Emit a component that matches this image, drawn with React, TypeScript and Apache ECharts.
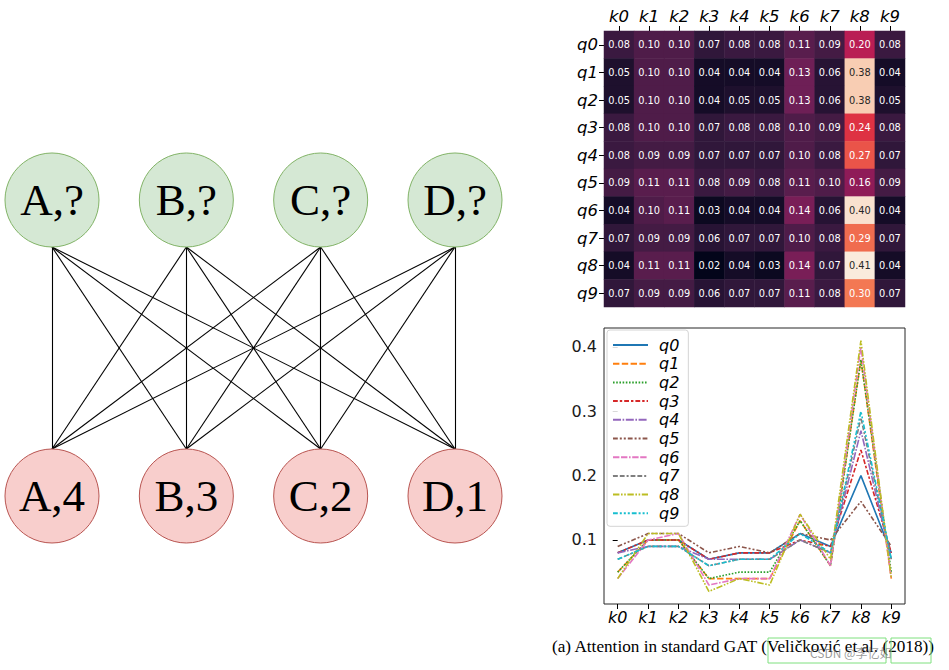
import React, { useEffect, useRef } from 'react';
import * as echarts from 'echarts';

const keys = ['k0', 'k1', 'k2', 'k3', 'k4', 'k5', 'k6', 'k7', 'k8', 'k9'];
const queries = ['q0', 'q1', 'q2', 'q3', 'q4', 'q5', 'q6', 'q7', 'q8', 'q9'];

const q0 = [0.08, 0.10, 0.10, 0.07, 0.08, 0.08, 0.11, 0.09, 0.20, 0.08];
const q1 = [0.05, 0.10, 0.10, 0.04, 0.04, 0.04, 0.13, 0.06, 0.38, 0.04];
const q2 = [0.05, 0.10, 0.10, 0.04, 0.05, 0.05, 0.13, 0.06, 0.38, 0.05];
const q3 = [0.08, 0.10, 0.10, 0.07, 0.08, 0.08, 0.10, 0.09, 0.24, 0.08];
const q4 = [0.08, 0.09, 0.09, 0.07, 0.07, 0.07, 0.10, 0.08, 0.27, 0.07];
const q5 = [0.09, 0.11, 0.11, 0.08, 0.09, 0.08, 0.11, 0.10, 0.16, 0.09];
const q6 = [0.04, 0.10, 0.11, 0.03, 0.04, 0.04, 0.14, 0.06, 0.40, 0.04];
const q7 = [0.07, 0.09, 0.09, 0.06, 0.07, 0.07, 0.10, 0.08, 0.29, 0.07];
const q8 = [0.04, 0.11, 0.11, 0.02, 0.04, 0.03, 0.14, 0.07, 0.41, 0.04];
const q9 = [0.07, 0.09, 0.09, 0.06, 0.07, 0.07, 0.11, 0.08, 0.30, 0.07];
const attention = [q0, q1, q2, q3, q4, q5, q6, q7, q8, q9];

const yTicks = [0.1, 0.2, 0.3, 0.4];

const topNodes = ['A,?', 'B,?', 'C,?', 'D,?'];
const bottomNodes = ['A,4', 'B,3', 'C,2', 'D,1'];

const captionText = '(a) Attention in standard GAT (Veličković et al. (2018))';
const watermark = 'CSDN @李忆如';

const lineColors = ['#1f77b4', '#ff7f0e', '#2ca02c', '#d62728', '#9467bd', '#8c564b', '#e377c2', '#7f7f7f', '#bcbd22', '#17becf'];
const dashBase: (number[] | null)[] = [
  null,
  [4, 1.5],
  [1, 1],
  [3, 1.25, 1.5, 1.25],
  [5, 1, 1, 1],
  [3, 1.25, 1.25, 1.25, 1.25, 1.25],
  [4, 1, 4, 1, 1, 1],
  [3, 1.25, 3, 1.25, 1.25, 1.25],
  [4, 1, 1, 1, 1, 1],
  [3, 1.25, 1.25, 1.25, 1.25, 1.25, 1.25, 1.25],
];
const rocket = ['#03051a', '#35193e', '#701f57', '#ad1759', '#e13342', '#f37651', '#f6b48f', '#faebdd'];

export default function App() {
  const ref = useRef<HTMLDivElement>(null);
  useEffect(() => {
    if (!ref.current) return;
    const chart = echarts.init(ref.current, null, { renderer: 'svg' });
    const all = attention.flat();
    const vmin = Math.min(...all);
    const vmax = Math.max(...all);
    const span = vmax - vmin;
    const lineW = 1.6;

    const heatData: any[] = [];
    attention.forEach((row, qi) => {
      row.forEach((v, ki) => {
        const t = (v - vmin) / span;
        heatData.push({
          value: [ki, qi, v],
          label: { color: t > 0.78 ? '#262626' : '#ffffff' },
        });
      });
    });

    const nodeR = 47;
    const graphH = 296;
    const rr = nodeR / graphH;
    const edges: any[] = [];
    topNodes.forEach((_, i) => {
      bottomNodes.forEach((__, j) => {
        edges.push({ coords: [[i, 1 - rr], [j, rr]] });
      });
    });

    const labelFont = 'DejaVu Sans';
    const option: any = {
      animation: false,
      backgroundColor: '#ffffff',
      grid: [
        { left: 604, top: 31, width: 301, height: 276 },
        { left: 604, top: 328, width: 301, height: 276, show: true, borderColor: '#262626', borderWidth: 1, backgroundColor: 'transparent' },
        { left: 52, top: 200, width: 403, height: graphH },
      ],
      xAxis: [
        {
          type: 'category', gridIndex: 0, data: keys, position: 'top',
          axisLine: { show: false },
          axisTick: { show: true, alignWithLabel: true, length: 5, lineStyle: { color: '#000' } },
          axisLabel: { fontFamily: labelFont, fontStyle: 'italic', fontSize: 16.5, color: '#000', margin: 6 },
        },
        {
          type: 'value', gridIndex: 1, min: -0.45, max: keys.length - 1 + 0.45,
          axisLine: { show: false }, splitLine: { show: false },
          axisTick: { show: true, length: 5, lineStyle: { color: '#000' }, customValues: keys.map((_, i) => i) },
          axisLabel: { fontFamily: labelFont, fontStyle: 'italic', fontSize: 16, color: '#000', margin: 5, customValues: keys.map((_, i) => i), formatter: (v: number) => keys[Math.round(v)] },
        },
        { type: 'value', gridIndex: 2, min: 0, max: 3, show: false },
      ],
      yAxis: [
        {
          type: 'category', gridIndex: 0, data: queries, inverse: true,
          axisLine: { show: false },
          axisTick: { show: true, alignWithLabel: true, length: 5, lineStyle: { color: '#000' } },
          axisLabel: { fontFamily: labelFont, fontStyle: 'italic', fontSize: 16.5, color: '#000', margin: 6 },
        },
        {
          type: 'value', gridIndex: 1, min: vmin - 0.05 * span, max: vmax + 0.05 * span,
          axisLine: { show: false }, splitLine: { show: false },
          axisTick: { show: true, length: 5, lineStyle: { color: '#000' }, customValues: yTicks },
          axisLabel: { fontFamily: labelFont, fontSize: 16, color: '#1a1a1a', margin: 7, customValues: yTicks, formatter: (v: number) => v.toFixed(1) },
        },
        { type: 'value', gridIndex: 2, min: 0, max: 1, show: false },
      ],
      visualMap: {
        type: 'continuous', show: false, min: vmin, max: vmax, dimension: 2, seriesIndex: 0,
        inRange: { color: rocket },
      },
      legend: {
        orient: 'vertical', left: 607, top: 330,
        data: queries,
        itemWidth: 35, itemHeight: 14, itemGap: 0.7,
        padding: [6, 9, 4, 5],
        itemStyle: { opacity: 0 },
        backgroundColor: 'rgba(255,255,255,0.85)', borderColor: '#d4d4d4', borderWidth: 1, borderRadius: 3,
        textStyle: { fontFamily: labelFont, fontStyle: 'italic', fontSize: 16, lineHeight: 18, color: '#000', padding: [0, 0, 0, 6] },
      },
      series: [
        {
          type: 'heatmap', xAxisIndex: 0, yAxisIndex: 0, data: heatData,
          label: { show: true, fontFamily: labelFont, fontSize: 9.8, formatter: (p: any) => p.value[2].toFixed(2) },
          emphasis: { disabled: true },
        },
        ...attention.map((row, qi) => ({
          type: 'line', name: queries[qi], xAxisIndex: 1, yAxisIndex: 1,
          data: row.map((v, ki) => [ki, v]),
          showSymbol: false, symbol: 'none',
          lineStyle: {
            color: lineColors[qi], width: lineW,
            type: dashBase[qi] ? (dashBase[qi] as number[]).map((d) => d * lineW) : 'solid',
          },
          itemStyle: { color: lineColors[qi] },
          emphasis: { disabled: true },
        })),
        {
          type: 'lines', coordinateSystem: 'cartesian2d', xAxisIndex: 2, yAxisIndex: 2,
          data: edges, lineStyle: { color: '#000', width: 1.1, opacity: 1 }, silent: true, z: 1,
        },
        {
          type: 'scatter', xAxisIndex: 2, yAxisIndex: 2, symbolSize: 94, clip: false, z: 3,
          data: topNodes.map((n, i) => ({ value: [i, 1], name: n })),
          itemStyle: { color: '#d5e8d4', borderColor: '#82b366', borderWidth: 1, opacity: 1 },
          label: { show: true, position: 'inside', formatter: '{b}', fontFamily: 'Liberation Serif', fontSize: 45, color: '#000' },
          emphasis: { disabled: true },
        },
        {
          type: 'scatter', xAxisIndex: 2, yAxisIndex: 2, symbolSize: 94, clip: false, z: 3,
          data: bottomNodes.map((n, i) => ({ value: [i, 0], name: n })),
          itemStyle: { color: '#f8cecc', borderColor: '#b85450', borderWidth: 1, opacity: 1 },
          label: { show: true, position: 'inside', formatter: '{b}', fontFamily: 'Liberation Serif', fontSize: 45, color: '#000' },
          emphasis: { disabled: true },
        },
      ],
      graphic: [
        {
          type: 'text', left: 552, top: 638,
          style: { text: captionText, font: '17.2px "Liberation Serif"', fill: '#000' },
        },
        { type: 'rect', shape: { x: 768, y: 638, width: 118, height: 25 }, style: { fill: 'none', stroke: '#7fe07f', lineWidth: 1 } },
        { type: 'rect', shape: { x: 891, y: 638, width: 40, height: 25 }, style: { fill: 'none', stroke: '#7fe07f', lineWidth: 1 } },
        {
          type: 'text', left: 810, top: 646,
          style: { text: watermark, font: '12px "Noto Sans CJK SC"', fill: 'rgba(110,110,110,0.7)' },
        },
      ],
    };
    chart.setOption(option);
    return () => chart.dispose();
  }, []);
  return <div ref={ref} style={{ position: 'absolute', left: 0, top: 0, width: 949, height: 670 }} />;
}
